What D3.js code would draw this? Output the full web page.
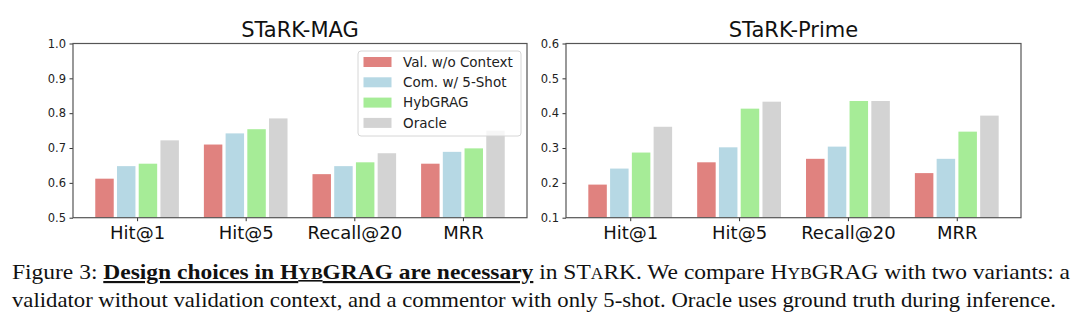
<!DOCTYPE html>
<html>
<head>
<meta charset="utf-8">
<script src="https://cdn.jsdelivr.net/npm/d3@7"></script>
<style>
  html, body { margin: 0; padding: 0; background: #fff; }
  svg { display: block; }
</style>
</head>
<body>
<svg id="chart" width="1080" height="322"></svg>
<script>
// metrics on the x axis
const categories = ['Hit@1', 'Hit@5', 'Recall@20', 'MRR']
const seriesNames = ['Val. w/o Context', 'Com. w/ 5-Shot', 'HybGRAG', 'Oracle']
const seriesColors = ['#e0827f', '#b6d8e4', '#a6ec97', '#d3d3d3']

// STaRK-MAG
const magVal = [0.612, 0.710, 0.625, 0.655]
const magCom = [0.648, 0.742, 0.648, 0.689]
const magHyb = [0.655, 0.754, 0.659, 0.699]
const magOracle = [0.722, 0.785, 0.685, 0.750]
const magTicks = [0.5, 0.6, 0.7, 0.8, 0.9, 1.0]

// STaRK-Prime
const primeVal = [0.195, 0.259, 0.269, 0.228]
const primeCom = [0.241, 0.302, 0.304, 0.269]
const primeHyb = [0.287, 0.413, 0.435, 0.347]
const primeOracle = [0.361, 0.433, 0.435, 0.393]
const primeTicks = [0.1, 0.2, 0.3, 0.4, 0.5, 0.6]

const svg = d3.select('#chart')
const plotTop = 43.5
const plotBottom = 217.7
const sans = 'DejaVu Sans, sans-serif'

function drawPanel(opts) {
  const { left, right, title, series, ticks, legend } = opts
  const g = svg.append('g')

  const x = d3.scaleLinear().domain([-0.59, 3.59]).range([left, right])
  const y = d3.scaleLinear().domain([ticks[0], ticks[ticks.length - 1]]).range([plotBottom, plotTop])

  const barW = x(0.17) - x(0)

  // bars, one group per series
  series.forEach((values, j) => {
    g.append('g')
      .selectAll('rect')
      .data(values)
      .enter()
      .append('rect')
      .attr('x', (d, i) => x(i + (j - 1.5) * 0.2) - barW / 2)
      .attr('width', barW)
      .attr('y', d => y(d))
      .attr('height', d => y(ticks[0]) - y(d))
      .attr('fill', seriesColors[j])
  })

  // y axis
  const yAxis = g.append('g')
    .attr('transform', `translate(${left},0)`)
    .call(d3.axisLeft(y).tickValues(ticks).tickFormat(d3.format('.1f')).tickSize(3.5).tickPadding(3.5))
  yAxis.select('.domain').remove()
  yAxis.selectAll('line').attr('stroke', '#333')
  yAxis.selectAll('text').attr('font-family', sans).attr('font-size', 11.5).attr('fill', '#222')

  // x axis
  const xAxis = g.append('g')
    .attr('transform', `translate(0,${plotBottom})`)
    .call(d3.axisBottom(x).tickValues(d3.range(categories.length)).tickFormat(i => categories[i]).tickSize(3.5))
  xAxis.select('.domain').remove()
  xAxis.selectAll('line').attr('stroke', '#333')
  xAxis.selectAll('text')
    .attr('y', 21.5)
    .attr('dy', 0)
    .attr('font-family', sans)
    .attr('font-size', 18)
    .attr('fill', '#111')

  // frame
  g.append('rect')
    .attr('x', left)
    .attr('y', plotTop)
    .attr('width', right - left)
    .attr('height', plotBottom - plotTop)
    .attr('fill', 'none')
    .attr('stroke', '#555')
    .attr('stroke-width', 1.2)

  g.append('text')
    .attr('x', (left + right) / 2)
    .attr('y', 37)
    .attr('text-anchor', 'middle')
    .attr('font-family', sans)
    .attr('font-size', 21)
    .attr('fill', '#111')
    .text(title)

  if (legend) {
    const lg = g.append('g').attr('transform', 'translate(358,51)')
    lg.append('rect')
      .attr('width', 163)
      .attr('height', 85)
      .attr('rx', 3)
      .attr('fill', '#fff')
      .attr('fill-opacity', 0.8)
      .attr('stroke', '#d6d6d6')
    const row = lg.selectAll('g.item')
      .data(seriesNames)
      .enter()
      .append('g')
      .attr('class', 'item')
      .attr('transform', (d, k) => `translate(0,${11 + k * 20.3})`)
    row.append('rect')
      .attr('x', 5.5)
      .attr('y', -5)
      .attr('width', 28)
      .attr('height', 10)
      .attr('fill', (d, k) => seriesColors[k])
    row.append('text')
      .attr('x', 45)
      .attr('y', 4.8)
      .attr('font-family', sans)
      .attr('font-size', 13.5)
      .attr('fill', '#222')
      .text(d => d)
  }
}

drawPanel({
  left: 73, right: 527, title: 'STaRK-MAG',
  series: [magVal, magCom, magHyb, magOracle], ticks: magTicks, legend: true
})
drawPanel({
  left: 566, right: 1021, title: 'STaRK-Prime',
  series: [primeVal, primeCom, primeHyb, primeOracle], ticks: primeTicks, legend: false
})

// caption, with small caps done by hand
const serif = 'Liberation Serif, Times New Roman, serif'
function caption(yPos, parts, width) {
  const t = svg.append('text')
    .attr('x', 12)
    .attr('y', yPos)
    .attr('font-family', serif)
    .attr('font-size', 21.5)
    .attr('fill', '#111')
  parts.forEach(p => {
    const s = t.append('tspan').text(p.t)
    if (p.b) s.attr('font-weight', 'bold').style('text-decoration', 'underline')
    if (p.sc) s.attr('font-size', 16)
  })
  t.attr('textLength', width).attr('lengthAdjust', 'spacingAndGlyphs')
}

caption(279, [
  { t: 'Figure 3: ' },
  { t: 'Design choices in H', b: true }, { t: 'YB', b: true, sc: true }, { t: 'GRAG are necessary', b: true },
  { t: ' in ST' }, { t: 'A', sc: true }, { t: 'RK. We compare H' }, { t: 'YB', sc: true },
  { t: 'GRAG with two variants: a' }
], 1058)
caption(307, [
  { t: 'validator without validation context, and a commentor with only 5-shot. Oracle uses ground truth during inference.' }
], 1044)
</script>
</body>
</html>
